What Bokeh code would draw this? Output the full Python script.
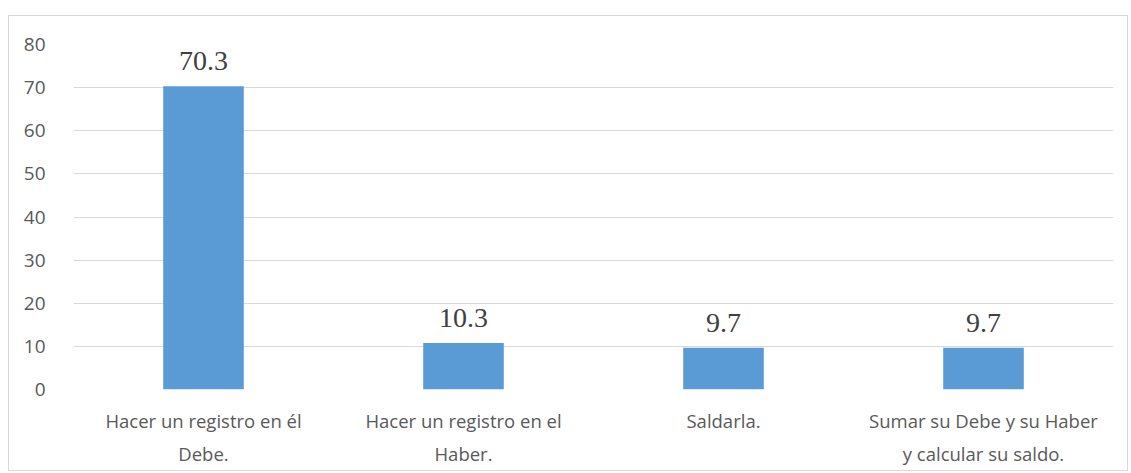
from bokeh.plotting import figure
from bokeh.models import ColumnDataSource, Range1d, FactorRange, LabelSet, FixedTicker
from bokeh.embed import file_html
from bokeh.resources import INLINE

categories = [
    "Hacer un registro en él\nDebe.",
    "Hacer un registro en el\nHaber.",
    "Saldarla.",
    "Sumar su Debe y su Haber\ny calcular su saldo.",
]
bar_heights = [70.3, 10.8, 9.7, 9.7]
value_labels = ["70.3", "10.3", "9.7", "9.7"]
y_ticks = [0, 10, 20, 30, 40, 50, 60, 70, 80]

src = ColumnDataSource(dict(cat=categories, h=bar_heights, lab=value_labels))

p = figure(
    x_range=FactorRange(*categories, range_padding=0.0),
    y_range=Range1d(0, 80),
    width=1120, height=456,
    output_backend="svg", toolbar_location=None,
    min_border_left=64, min_border_right=16, min_border_top=28, min_border_bottom=83,
)
p.x_range.factor_padding = 0.0
p.outline_line_color = None
p.background_fill_color = "white"
p.border_fill_color = "white"
p.margin = (15, 0, 0, 8)
p.styles = {"border": "1px solid #D9D9D9"}

p.vbar(x="cat", top="h", width=0.31, source=src, fill_color="#5B9BD5", line_color=None)

labels = LabelSet(x="cat", y="h", text="lab", source=src, y_offset=16,
                  text_align="center", text_baseline="alphabetic",
                  text_font="Liberation Serif", text_font_size="28px", text_color="#404040")
p.add_layout(labels)

p.xgrid.grid_line_color = None
p.ygrid.grid_line_color = "#D9D9D9"
p.ygrid.grid_line_width = 1
p.yaxis.ticker = FixedTicker(ticks=y_ticks)

for ax in (p.xaxis, p.yaxis):
    ax.axis_line_color = None
    ax.major_tick_line_color = None
    ax.minor_tick_line_color = None
    ax.major_label_text_color = "#595959"
    ax.major_label_text_font = "Open Sans"

p.yaxis.major_label_text_font_size = "19px"
p.yaxis.major_label_standoff = 22
p.xaxis.major_label_text_font_size = "18.5px"
p.xaxis.major_label_standoff = 12
p.xaxis.major_label_text_line_height = 1.35

open("out.html", "w").write(file_html(p, INLINE))
